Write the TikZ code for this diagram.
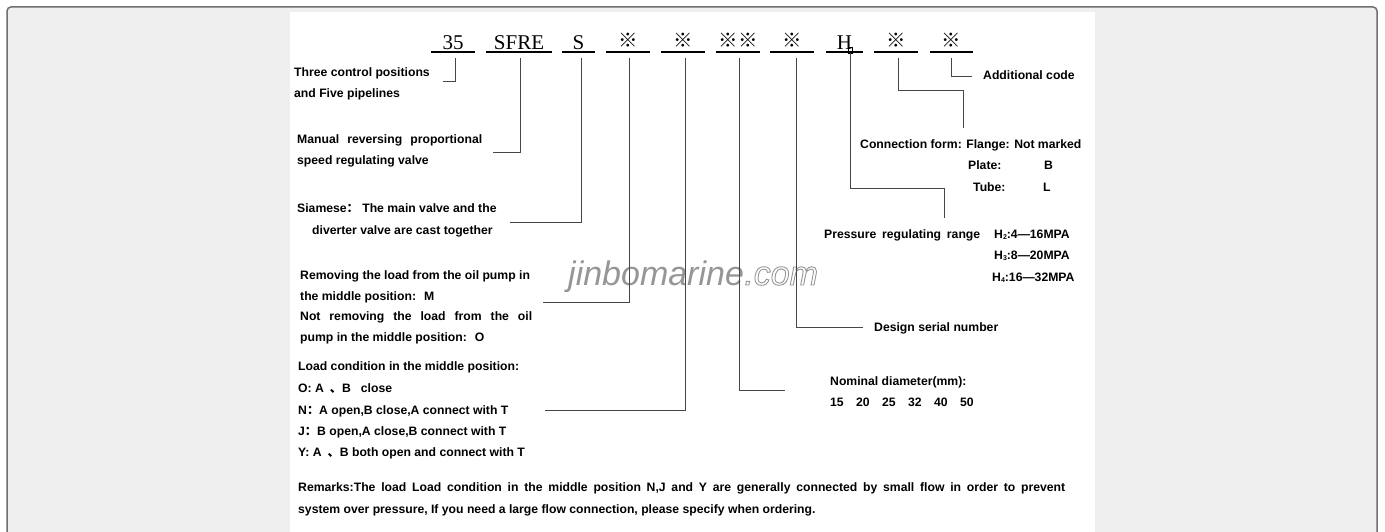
\documentclass[tikz,border=0pt]{standalone}
\usepackage{fontspec}
\setmainfont{Liberation Sans}
\newfontfamily\serifcode{Liberation Serif}
\newfontfamily\cjk{Noto Sans CJK SC}
\definecolor{bgc}{RGB}{239,239,239}
\definecolor{framec}{RGB}{112,112,112}
\definecolor{wmgray}{RGB}{150,150,150}
\definecolor{linec}{RGB}{70,70,70}
\newcommand\subidx[1]{\raisebox{-1.5pt}{\fontsize{7}{7}\selectfont #1}}
\newcommand\outlinetext[1]{\special{pdf:literal direct 1 Tr 0.9 w}#1\special{pdf:literal direct 0 Tr}}
\begin{document}
\begin{tikzpicture}[x=1pt,y=-1pt,
  desc/.style={anchor=base west, inner sep=0pt, font=\bfseries\fontsize{12.2}{14}\selectfont},
  code/.style={anchor=south, inner xsep=0pt, inner ysep=2.5pt, text depth=0pt, font=\serifcode\fontsize{21}{21}\selectfont},
  refmark/.style={code, inner ysep=4pt, font=\cjk\fontsize{19.5}{19.5}\selectfont},
  uline/.style={line width=2pt},
  conn/.style={line width=0.9pt, draw=linec},
  wm/.style={anchor=base west, inner sep=0pt, font=\itshape\fontsize{34}{34}\selectfont}
]
\fill[white] (0,0) rectangle (1385,532);
\useasboundingbox (0,0) rectangle (1385,532);
\draw[fill=bgc, draw=framec, line width=1.5pt, rounded corners=4pt] (7,7) rectangle (1377,548);
\fill[white] (290,12) rectangle (1095,545);

% watermark
\node[wm, text=wmgray] (wm1) at (568,285) {jinbomarine};
\node[wm, text=wmgray] (wm2) at (wm1.base east) {\outlinetext{.com}};

% code line
\node[code, minimum width=44pt] (c1) at (453,52) {35};
\node[code, minimum width=66pt] (c2) at (519,52) {SFRE};
\node[code, minimum width=33pt] (c3) at (578.5,52) {S};
\node[refmark, minimum width=44pt] (c4) at (628,52) {※};
\node[refmark, minimum width=44pt] (c5) at (683,52) {※};
\node[refmark, minimum width=44pt] (c6) at (738,52) {※※};
\node[refmark, minimum width=44pt] (c7) at (792,52) {※};
\node[code, minimum width=37pt] (c8) at (844.5,52) {H\hspace{7pt}};
\node[refmark, minimum width=44pt] (c9) at (896,52) {※};
\node[refmark, minimum width=43pt] (c10) at (951.5,52) {※};
\foreach \n in {c1,c2,c3,c4,c5,c6,c7,c8,c9,c10}
  \draw[uline] (\n.south west) -- (\n.south east);
\node[draw, line width=0.6pt, inner sep=0pt, minimum width=3.5pt, minimum height=6pt, anchor=south] (hbox) at (850.5,53.5) {};

% descriptions left
\node[desc] (t1a) at (294,77) {Three control positions};
\node[desc] (t1b) at (294,98) {and Five pipelines};
\node[desc] (t2a) at (297,144) {\makebox[185pt][s]{Manual reversing proportional}};
\node[desc] (t2b) at (297,165) {speed regulating valve};
\node[desc] (t3a) at (297,212) {Siamese{\cjk ：} The main valve and the};
\node[desc] (t3b) at (312,234) {diverter valve are cast together};
\node[desc] (t4a) at (300,279) {Removing the load from the oil pump in};
\node[desc] (t4b) at (300,300) {the middle position:\hspace{8pt}M};
\node[desc] (t4c) at (300,320) {\makebox[232pt][s]{Not removing the load from the oil}};
\node[desc] (t4d) at (300,341) {pump in the middle position:\hspace{8pt}O};
\node[desc] (t5a) at (298,370) {Load condition in the middle position:};
\node[desc] (t5b) at (298,392) {O: A\hspace{6pt}{\cjk 、}B\hspace{10pt}close};
\node[desc] (t5c) at (298,414) {N{\cjk ：}A open,B close,A connect with T};
\node[desc] (t5d) at (298,435) {J{\cjk ：}B open,A close,B connect with T};
\node[desc] (t5e) at (298,456) {Y: A\hspace{6pt}{\cjk 、}B both open and connect with T};
\node[desc] (r1) at (298,491) {\makebox[767pt][s]{Remarks:The load Load condition in the middle position N,J and Y are generally connected by small flow in order to prevent}};
\node[desc] (r2) at (298,513) {system over pressure, If you need a large flow connection, please specify when ordering.};

% descriptions right
\node[desc] (t10) at (983,80) {Additional code};
\node[desc] (t9a) at (860,149) {Connection form: Flange: Not marked};
\node[desc] (t9b) at (968,170) {Plate:};
\node[desc] (t9c) at (1044,170) {B};
\node[desc] (t9d) at (973,192) {Tube:};
\node[desc] (t9e) at (1043,192) {L};
\node[desc] (t8a) at (824,238) {\makebox[156pt][s]{Pressure regulating range}};
\node[desc] (t8b) at (994,238) {H\subidx{2}:4—16MPA};
\node[desc] (t8c) at (994,259) {H\subidx{3}:8—20MPA};
\node[desc] (t8d) at (992,281) {H\subidx{4}:16—32MPA};
\node[desc] (t7) at (874,331) {Design serial number};
\node[desc] (t6a) at (830,385) {Nominal diameter(mm):};
\node[desc] (t6b) at (830,406) {\makebox[26pt][l]{15}\makebox[26pt][l]{20}\makebox[26pt][l]{25}\makebox[26pt][l]{32}\makebox[26pt][l]{40}50};

% connector ends
\coordinate (e1) at (443,81);
\coordinate (e2) at (493,152);
\coordinate (e3) at (510,222);
\coordinate (e4) at (543,302);
\coordinate (e5) at (545,410);
\coordinate (e6) at (785,390);
\coordinate (e7) at (863,327);
\coordinate (k8) at (944,188);
\coordinate (e8) at (944,218);
\coordinate (k9) at (963,90);
\coordinate (e9) at (963,128);
\coordinate (e10) at (972,76);

\draw[conn] ([xshift=2pt,yshift=-6pt]c1.south) |- (e1);
\draw[conn] ([xshift=1pt,yshift=-6pt]c2.south) |- (e2);
\draw[conn] ([xshift=2.5pt,yshift=-6pt]c3.south) |- (e3);
\draw[conn] ([xshift=1pt,yshift=-6pt]c4.south) |- (e4);
\draw[conn] ([xshift=2pt,yshift=-6pt]c5.south) |- (e5);
\draw[conn] ([xshift=1pt,yshift=-6pt]c6.south) |- (e6);
\draw[conn] ([xshift=4pt,yshift=-6pt]c7.south) |- (e7);
\draw[conn] (hbox.south) |- (k8) -- (e8);
\draw[conn] ([xshift=2pt,yshift=-6pt]c9.south) |- (k9) -- (e9);
\draw[conn] ([xshift=-0.5pt,yshift=-6pt]c10.south) |- (e10);
\end{tikzpicture}
\end{document}
